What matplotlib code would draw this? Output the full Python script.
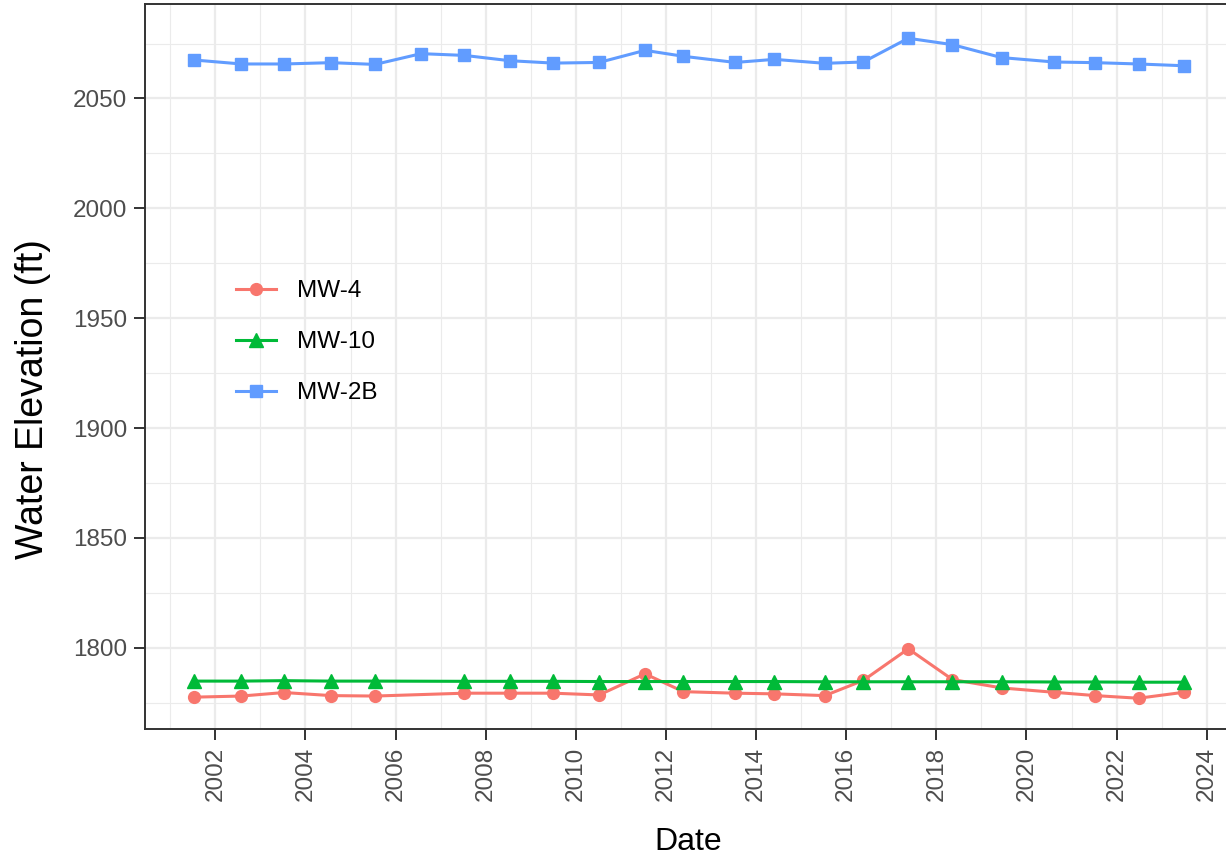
import numpy as np
import pandas as pd
import matplotlib
matplotlib.use("Agg")
import matplotlib.pyplot as plt
import matplotlib.dates as mdates

# sampling dates
dates_2b = ["2001-07-16", "2002-07-31", "2003-07-13", "2004-07-27", "2005-07-19",
            "2006-07-27", "2007-07-13", "2008-07-13", "2009-07-02", "2010-07-09",
            "2011-07-16", "2012-05-22", "2013-07-16", "2014-05-30", "2015-07-13",
            "2016-05-19", "2017-05-19", "2018-05-12", "2019-06-14", "2020-08-14",
            "2021-07-13", "2022-06-28", "2023-06-28"]
# MW-4 and MW-10 have no 2006 reading
dates_4 = [d for d in dates_2b if not d.startswith("2006")]

mw4 = [1777.5, 1778.0, 1779.6, 1778.2, 1778.0, 1779.3, 1779.3, 1779.3, 1778.5,
       1788.1, 1780.0, 1779.3, 1779.0, 1778.2, 1785.1, 1799.5, 1785.5, 1781.7,
       1779.7, 1778.2, 1777.0, 1779.7]
mw10 = [1784.8, 1784.8, 1785.0, 1784.8, 1784.8, 1784.7, 1784.7, 1784.7, 1784.6,
        1784.6, 1784.6, 1784.6, 1784.6, 1784.5, 1784.5, 1784.5, 1784.5, 1784.5,
        1784.4, 1784.4, 1784.3, 1784.3]
mw2b = [2067.5, 2065.7, 2065.7, 2066.3, 2065.5, 2070.4, 2069.6, 2067.2, 2066.1,
        2066.4, 2071.9, 2069.2, 2066.4, 2067.8, 2066.0, 2066.6, 2077.4, 2074.5,
        2068.6, 2066.6, 2066.3, 2065.7, 2064.9]

d4 = pd.to_datetime(dates_4)
d2b = pd.to_datetime(dates_2b)

plt.rcParams['font.family'] = ['Liberation Sans', 'DejaVu Sans']

W, H = 1226, 858
fig = plt.figure(figsize=(W / 100, H / 100), dpi=100)
fig.patch.set_facecolor('white')
# panel runs off the right edge like the reference
ax = fig.add_axes([145 / W, (H - 729) / H, 1088 / W, 725 / H])

ax.plot(d4, mw4, color='#F8766D', lw=2.2, marker='o', ms=8.5, label='MW-4', zorder=3)
ax.plot(d4, mw10, color='#00BA38', lw=2.2, marker='^', ms=9.5, label='MW-10', zorder=3)
ax.plot(d2b, mw2b, color='#619CFF', lw=2.2, marker='s', ms=8, label='MW-2B', zorder=3)

# ggplot style 5% expansion
xmin, xmax = mdates.date2num(d2b.min()), mdates.date2num(d2b.max())
span = xmax - xmin
ax.set_xlim(xmin - 0.05 * span, xmax + 0.05 * span)
ax.set_ylim(1763, 2093)

ax.xaxis.set_major_locator(mdates.YearLocator(2))
ax.xaxis.set_major_formatter(mdates.DateFormatter('%Y'))
ax.xaxis.set_minor_locator(mdates.YearLocator(1))
ax.set_yticks([1800, 1850, 1900, 1950, 2000, 2050])
ax.set_yticks([1775, 1825, 1875, 1925, 1975, 2025, 2075], minor=True)

ax.grid(which='major', color='#EBEBEB', lw=1.6, zorder=0)
ax.grid(which='minor', color='#EBEBEB', lw=0.8, zorder=0)
ax.set_axisbelow(True)

for s in ax.spines.values():
    s.set_color('#333333')
    s.set_linewidth(1.4)

ax.tick_params(which='major', length=8, width=1.4, color='#333333',
               labelsize=17.5, labelcolor='#4D4D4D', pad=5)
ax.tick_params(which='minor', length=0)
plt.setp(ax.get_xticklabels(), rotation=90, va='top', ha='center')

ax.set_xlabel('Date', fontsize=23, color='black')
ax.set_ylabel('Water Elevation (ft)', fontsize=27, color='black')
ax.xaxis.set_label_coords((688 - 145) / 1088, -0.135)
ax.yaxis.set_label_coords(-0.086, 0.455)

leg = ax.legend(loc='upper left', bbox_to_anchor=(236 / W, 1 - 280 / H),
                bbox_transform=fig.transFigure, frameon=False, fontsize=17.5,
                handlelength=1.65, handletextpad=0.85, labelspacing=1.2,
                borderpad=0, borderaxespad=0)

fig.savefig('out.png', dpi=100)
